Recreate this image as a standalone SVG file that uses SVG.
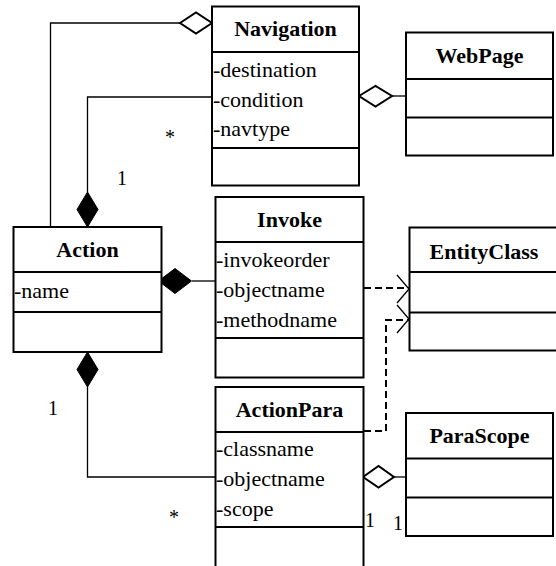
<svg xmlns="http://www.w3.org/2000/svg" width="556" height="566" viewBox="0 0 556 566">
<style>
.box{fill:#fff;stroke:#000;stroke-width:2}
.div{stroke:#000;stroke-width:2}
text{font-family:"Liberation Serif","Times New Roman",Times,serif;fill:#000}
.t{font-size:22px;font-weight:bold;text-anchor:middle}
.a{font-size:22px}
.l{font-size:20px}
.c{fill:none;stroke:#000;stroke-width:1.3}
.d{fill:none;stroke:#000;stroke-width:2;stroke-dasharray:7,4}
.od{fill:#fff;stroke:#000;stroke-width:2}
.fd{fill:#000;stroke:#000;stroke-width:1}
.arr{fill:none;stroke:#000;stroke-width:1.3}
</style>
<rect width="556" height="566" fill="#fff"/>
<g id="connectors">
  <polyline class="c" points="180,23 50.5,23 50.5,227"/>
  <polyline class="c" points="212,97 87.5,97 87.5,192"/>
  <line class="c" x1="392" y1="96" x2="406" y2="96"/>
  <line class="c" x1="192" y1="281" x2="221" y2="281"/>
  <polyline class="c" points="87.5,387 87.5,477 216,477"/>
  <line class="c" x1="394" y1="477" x2="406" y2="477"/>
  <polyline class="d" points="364,288 409,288"/>
  <polyline class="d" points="364,431 386,431 386,320 409,320"/>
  <polyline class="arr" points="397,275 409,289 397,303"/>
  <polyline class="arr" points="397,305 409,319 397,333"/>
  <polygon class="od" points="180,23 196,12.5 212,23 196,33.5"/>
  <polygon class="od" points="359,96 375.5,86 392,96 375.5,106.5"/>
  <polygon class="od" points="363,477 378.5,466 394,477 378.5,487.5"/>
  <polygon class="fd" points="87.5,192 98,209.5 87.5,227 77,209.5"/>
  <polygon class="fd" points="87.5,352 98,369.5 87.5,387 77,369.5"/>
  <polygon class="fd" points="158.5,281 175,268.5 191.5,281 175,293.5"/>
  <text class="l" x="165" y="144">*</text>
  <text class="l" x="117" y="185">1</text>
  <text class="l" x="48" y="415">1</text>
  <text class="l" x="169" y="524">*</text>
  <text class="l" x="365" y="527">1</text>
  <text class="l" x="393" y="530">1</text>
</g>
<g id="Navigation">
  <rect class="box" x="212" y="6.5" width="147" height="179"/>
  <line class="div" x1="212" y1="52" x2="359" y2="52"/>
  <line class="div" x1="212" y1="148" x2="359" y2="148"/>
  <text class="t" x="285.5" y="36">Navigation</text>
  <text class="a" x="213" y="77">-destination</text>
  <text class="a" x="213" y="107">-condition</text>
  <text class="a" x="213" y="136">-navtype</text>
</g>
<g id="WebPage">
  <rect class="box" x="406" y="32.5" width="147" height="123"/>
  <line class="div" x1="406" y1="79" x2="553" y2="79"/>
  <line class="div" x1="406" y1="117.5" x2="553" y2="117.5"/>
  <text class="t" x="479.5" y="63">WebPage</text>
</g>
<g id="Action">
  <rect class="box" x="13.5" y="227" width="148" height="125"/>
  <line class="div" x1="13.5" y1="272" x2="161.5" y2="272"/>
  <line class="div" x1="13.5" y1="312" x2="161.5" y2="312"/>
  <text class="t" x="87.5" y="257">Action</text>
  <text class="a" x="14" y="298">-name</text>
</g>
<g id="Invoke">
  <rect class="box" x="215.5" y="197" width="148" height="180.5"/>
  <line class="div" x1="215.5" y1="242" x2="363.5" y2="242"/>
  <line class="div" x1="215.5" y1="338" x2="363.5" y2="338"/>
  <text class="t" x="289.5" y="227">Invoke</text>
  <text class="a" x="216" y="267">-invokeorder</text>
  <text class="a" x="216" y="297">-objectname</text>
  <text class="a" x="216" y="327">-methodname</text>
</g>
<g id="EntityClass">
  <rect class="box" x="409.5" y="227.5" width="160" height="123"/>
  <line class="div" x1="409.5" y1="272" x2="569.5" y2="272"/>
  <line class="div" x1="409.5" y1="312.5" x2="569.5" y2="312.5"/>
  <text class="t" x="484" y="259">EntityClass</text>
</g>
<g id="ActionPara">
  <rect class="box" x="215.5" y="387" width="148" height="200"/>
  <line class="div" x1="215.5" y1="432" x2="363.5" y2="432"/>
  <line class="div" x1="215.5" y1="527" x2="363.5" y2="527"/>
  <text class="t" x="289.5" y="417">ActionPara</text>
  <text class="a" x="216" y="456">-classname</text>
  <text class="a" x="216" y="486">-objectname</text>
  <text class="a" x="216" y="516">-scope</text>
</g>
<g id="ParaScope">
  <rect class="box" x="406" y="413" width="147" height="123"/>
  <line class="div" x1="406" y1="458.5" x2="553" y2="458.5"/>
  <line class="div" x1="406" y1="497.5" x2="553" y2="497.5"/>
  <text class="t" x="479.5" y="443">ParaScope</text>
</g>
</svg>
